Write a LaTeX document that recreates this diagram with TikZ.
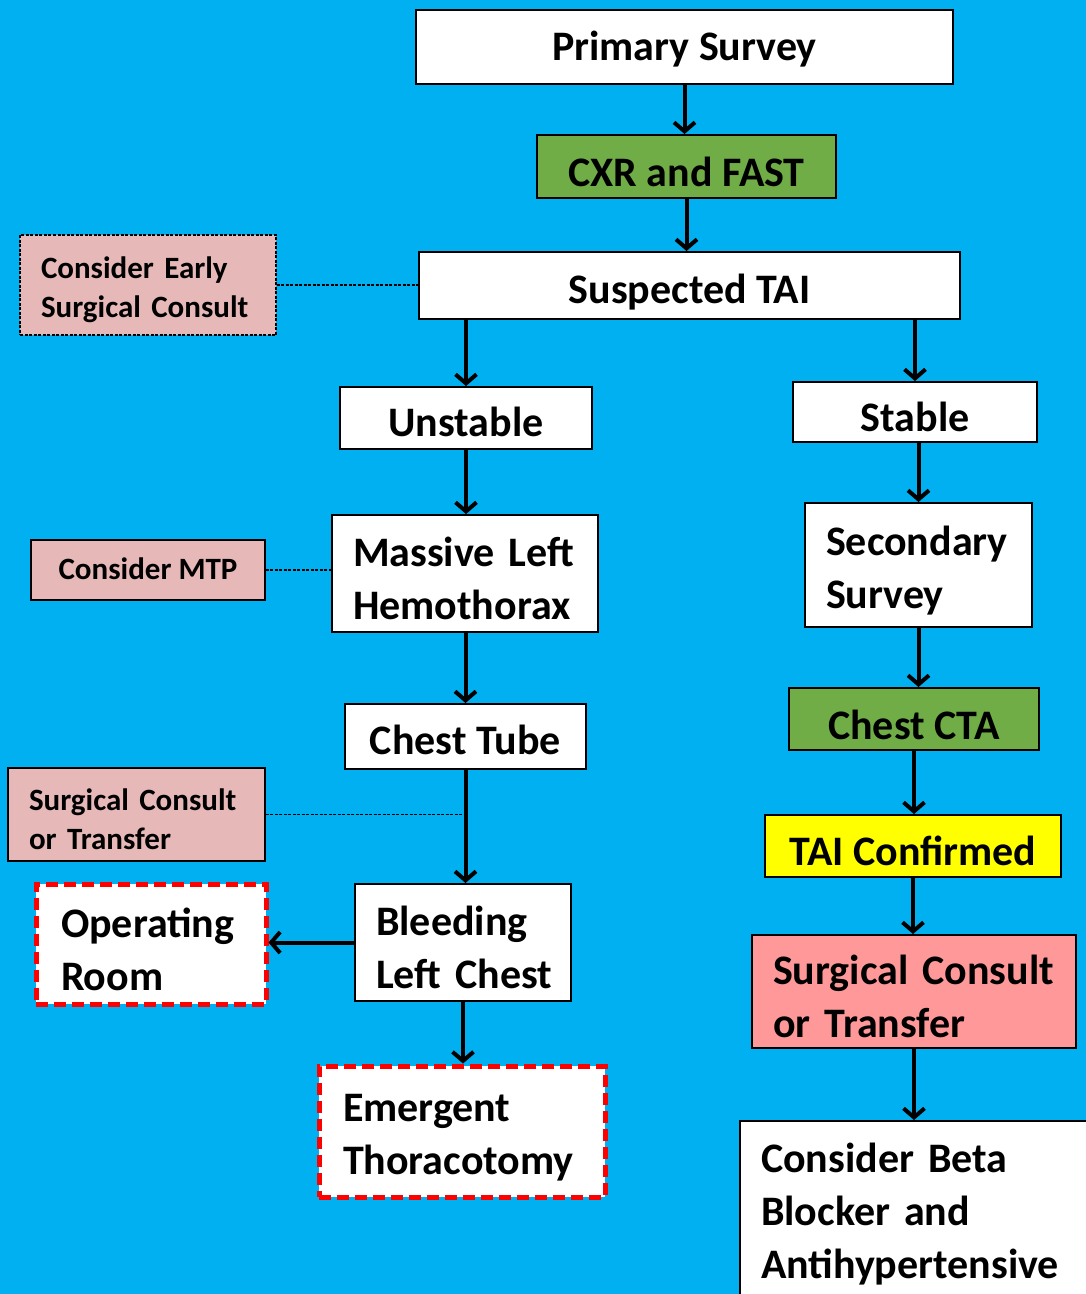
\documentclass[tikz,border=0pt]{standalone}
\usepackage{fontspec}
\setmainfont{Carlito}
\usetikzlibrary{arrows.meta}
\definecolor{bgblue}{HTML}{00B0F0}
\definecolor{boxgreen}{HTML}{70AD47}
\definecolor{boxpink}{HTML}{E6B9B8}
\definecolor{boxsalmon}{HTML}{FF9999}
\definecolor{boxyellow}{HTML}{FFFF00}
\newcommand{\bigup}{\rule{0pt}{40pt}}
\newcommand{\betaup}{\rule{0pt}{36pt}}
\newcommand{\smallup}{\rule{0pt}{31pt}}
\hfuzz=100pt
\tikzset{
  bigtxt/.style={font=\fontsize{42}{53}\selectfont\bfseries},
  smalltxt/.style={font=\fontsize{31}{39.5}\selectfont\bfseries},
  box/.style={draw=black, line width=2pt, fill=white, rectangle, inner sep=0pt, minimum width=#1},
  bh/.style={minimum height=#1},
  capset/.style={text depth=0pt, text height=#1},
  lbox/.style={box=#1, text width=#1-42pt, align=left, inner xsep=21pt},
  reddash/.style={draw=red, line width=5pt, dash pattern=on 12pt off 6pt},
  arr/.style={line width=4pt, -{Straight Barb[length=9pt,width=21pt]}},
  thindash/.style={line width=1.3pt, dash pattern=on 3pt off 1.5pt},
}
\begin{document}
\begin{tikzpicture}[x=1pt,y=-1pt]
\useasboundingbox (0,0) rectangle (1086,1294);
\clip (0,0) rectangle (1086,1294);
\fill[bgblue] (0,0) rectangle (1086,1294);

% left / centre column
\node[box=537pt, bh=74pt, bigtxt, capset=26.6pt] (ps) at (684.5,47) {Primary Survey};
\node[box=299pt, bh=63pt, bigtxt, capset=40.6pt, fill=boxgreen] (cxr) at (686.5,166.5) {CXR and FAST};
\node[box=541pt, bh=67pt, bigtxt, capset=35.6pt] (tai) at (689.5,285.5) {Suspected TAI};
\node[lbox=256pt, bh=100pt, smalltxt, fill=boxpink, line width=1.3pt, dash pattern=on 3pt off 1.5pt] (early) at (148,285) {\smallup Consider~Early\\Surgical~Consult};
\node[box=252pt, bh=62pt, bigtxt, capset=36.6pt] (unst) at (466,418) {Unstable};
\node[lbox=266pt, bh=117pt, bigtxt] (mlh) at (465,573.5) {\bigup Massive~Left\\Hemothorax};
\node[box=234pt, bh=60pt, smalltxt, capset=19.6pt, fill=boxpink, line width=1.5pt] (mtp) at (148,570) {Consider MTP};
\node[box=241pt, bh=65pt, bigtxt, capset=35.6pt] (ct) at (465.5,736.5) {Chest Tube};
\node[lbox=257pt, bh=93pt, smalltxt, fill=boxpink, line width=1.5pt] (sctl) at (136.5,814.5) {\smallup Surgical~Consult\\or~Transfer};
\node[lbox=216pt, bh=117pt, bigtxt] (blc) at (463,942.5) {\bigup Bleeding\\Left~Chest};
\node[lbox=230pt, bh=120pt, bigtxt, reddash, inner xsep=25pt, text width=180pt] (or) at (151,944) {\bigup Operating\\Room};
\node[lbox=286pt, bh=131pt, bigtxt, reddash, inner xsep=24pt, text width=238pt] (et) at (462,1131.5) {\bigup Emergent\\Thoracotomy};

% right column
\node[box=244pt, bh=60pt, bigtxt, capset=39.6pt] (stable) at (915,412) {Stable};
\node[lbox=227pt, bh=124pt, bigtxt] (ss) at (918.5,565) {\bigup Secondary\\Survey};
\node[box=250pt, bh=62pt, bigtxt, capset=40.6pt, fill=boxgreen] (cta) at (914,719) {Chest CTA};
\node[box=296pt, bh=62pt, bigtxt, capset=38.6pt, fill=boxyellow] (tc) at (913,846) {TAI Confirmed};
\node[lbox=324pt, bh=113pt, bigtxt, fill=boxsalmon] (sctr) at (914,991.5) {\bigup Surgical~Consult\\or~Transfer};
\node[lbox=360pt, bh=179pt, bigtxt] (beta) at (920,1210.5) {\betaup Consider~Beta\\Blocker~and\\Antihypertensive};

% arrows
\draw[arr] (ps.south) -- (ps.south |- cxr.north);
\draw[arr] (cxr.south) -- (cxr.south |- tai.north);
\draw[arr] (unst.north |- tai.south) -- (unst.north);
\draw[arr] (stable.north |- tai.south) -- (stable.north);
\draw[arr] (unst.south) -- (unst.south |- mlh.north);
\draw[arr] (ct.north |- mlh.south) -- (ct.north);
\draw[arr] (ct.south) -- (ct.south |- blc.north);
\draw[arr] (blc.west) -- (or.east |- blc.west);
\draw[arr] (blc.south) -- (blc.south |- et.north);
\draw[arr] (ss.north |- stable.south) -- (ss.north);
\draw[arr] (ss.south) -- (ss.south |- cta.north);
\draw[arr] (cta.south) -- (cta.south |- tc.north);
\draw[arr] (tc.south) -- (tc.south |- sctr.north);
\draw[arr] (sctr.south) -- (sctr.south |- beta.north);

% dashed links
\draw[thindash] (early.east) -- (tai.west |- early.east);
\draw[thindash] (mtp.east) -- (mlh.west |- mtp.east);
\draw[thindash] (sctl.east) -- (sctl.east -| ct.south);
\end{tikzpicture}
\end{document}
